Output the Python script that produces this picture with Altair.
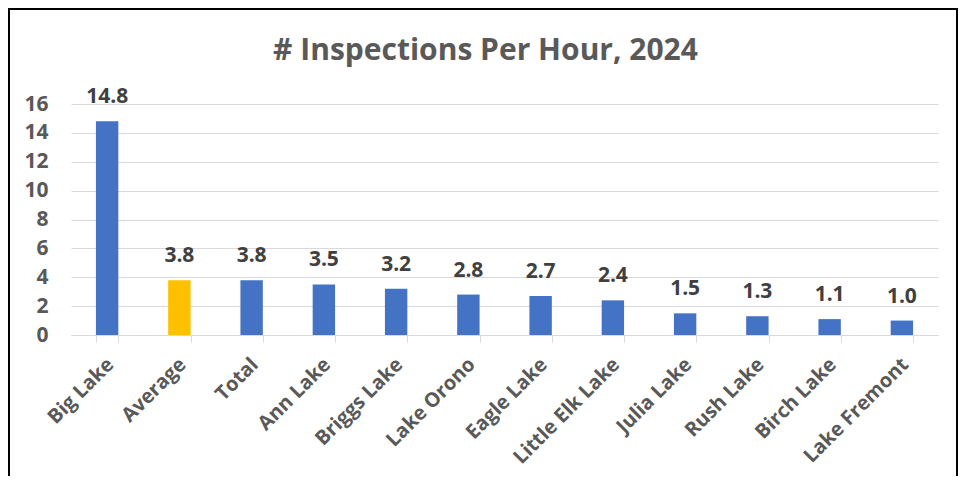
import altair as alt
import pandas as pd

lakes = ["Big Lake", "Average", "Total", "Ann Lake", "Briggs Lake", "Lake Orono",
         "Eagle Lake", "Little Elk Lake", "Julia Lake", "Rush Lake", "Birch Lake", "Lake Fremont"]
values = [14.8, 3.8, 3.8, 3.5, 3.2, 2.8, 2.7, 2.4, 1.5, 1.3, 1.1, 1.0]
kinds = ["lake", "avg"] + ["lake"] * 10
y_ticks = [0, 2, 4, 6, 8, 10, 12, 14, 16]

df = pd.DataFrame({"lake": lakes, "value": values, "kind": kinds})

FONT = "Open Sans"
GREY = "#595959"

x = alt.X("lake:N", sort=lakes, title=None,
          scale=alt.Scale(paddingInner=0.69, paddingOuter=0.345),
          axis=alt.Axis(labelAngle=-45, labelFont=FONT, labelFontSize=20, labelFontWeight="bold",
                        labelColor=GREY, domainColor="#D9D9D9", tickColor="#D9D9D9",
                        tickBand="extent", tickSize=7, labelPadding=12, labelOffset=-4,
                        grid=False, labelOverlap=False))
y = alt.Y("value:Q", title=None,
          scale=alt.Scale(domain=[0, 16], nice=False),
          axis=alt.Axis(values=y_ticks, tickCount=9, labelFont=FONT, labelFontSize=21,
                        labelFontWeight="bold", labelColor=GREY, domain=False, ticks=False,
                        labelPadding=23, gridColor="#D9D9D9", gridWidth=1, labelOverlap=False))

base = alt.Chart(df)
bars = base.mark_bar().encode(
    x=x, y=y,
    color=alt.Color("kind:N", scale=alt.Scale(domain=["lake", "avg"], range=["#4472C4", "#FFC000"]),
                    legend=None),
)
labels = base.mark_text(font=FONT, fontSize=21, fontWeight="bold", color="#404040",
                        baseline="alphabetic", dy=-18).encode(
    x=x, y=y, text=alt.Text("value:Q", format=".1f"))

border = alt.Chart(pd.DataFrame({"a": [0]})).mark_rect(
    fillOpacity=0, stroke="black", strokeWidth=2).encode(
    x=alt.value(-62), x2=alt.value(886), y=alt.value(-95), y2=alt.value(400))

chart = alt.layer(bars, labels, border).properties(
    width=867, height=231,
    autosize=alt.AutoSizeParams(type="none"),
    padding={"left": 63, "top": 96, "right": 21, "bottom": 141},
    title=alt.TitleParams("# Inspections Per Hour, 2024", font=FONT, fontSize=30,
                          fontWeight="bold", color=GREY, anchor="middle", frame="group",
                          dx=-19, offset=-58),
).configure_view(stroke=None)

chart.save("out.html", embed_options={"renderer": "svg", "actions": False})
